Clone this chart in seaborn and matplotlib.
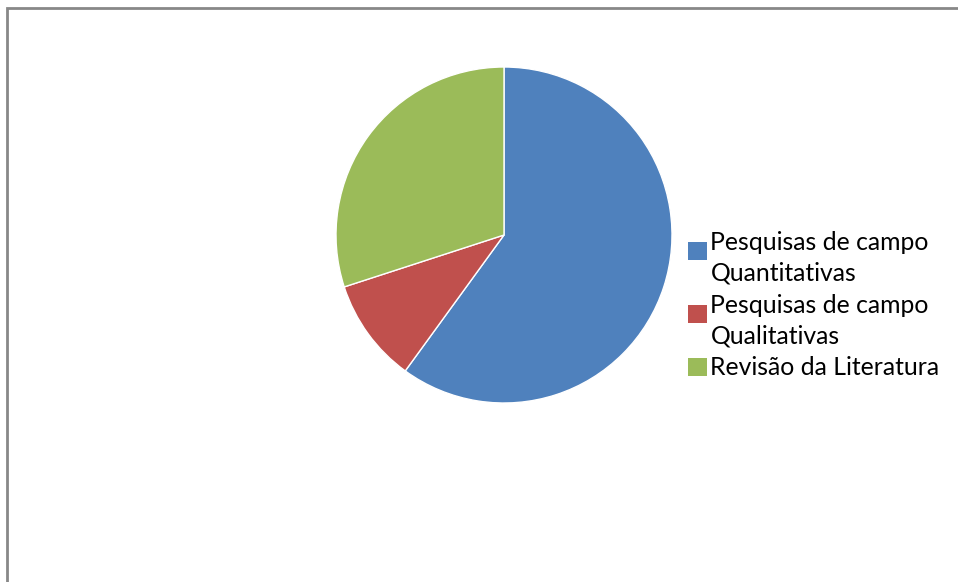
import matplotlib
matplotlib.use("Agg")
import matplotlib.pyplot as plt
import seaborn as sns
from matplotlib.patches import Patch, Rectangle
from matplotlib.legend_handler import HandlerPatch

# data
labels = ["Pesquisas de campo\nQuantitativas", "Pesquisas de campo\nQualitativas", "Revisão da Literatura"]
values = [60, 10, 30]
colors = ["#4F81BD", "#C0504D", "#9BBB59"]

sns.set_theme(style="white")
plt.rcParams["font.family"] = ["Lato", "DejaVu Sans"]

W, H = 958, 582
fig = plt.figure(figsize=(W / 100, H / 100), dpi=100)
fig.patch.set_facecolor("white")

# pie center ~ (504, 235) px, radius ~168 px
cx, cy, r = 504, 235, 168
ax = fig.add_axes([(cx - r) / W, (H - cy - r) / H, 2 * r / W, 2 * r / H])
wedges, _ = ax.pie(values, colors=colors, startangle=90, counterclock=False,
                   wedgeprops=dict(edgecolor="white", linewidth=1))
ax.set_xlim(-1, 1)
ax.set_ylim(-1, 1)
ax.set_aspect("equal")
ax.axis("off")

# outer frame (only top and left visible)
fig.add_artist(Rectangle((7 / W, -0.1), 2.0, (H - 7.5) / H + 0.1, transform=fig.transFigure,
                         fill=False, edgecolor="#888888", linewidth=2))


class SquareHandler(HandlerPatch):
    # Excel puts the square next to the first line of a wrapped label
    def __init__(self, shift):
        super().__init__()
        self.shift = shift

    def create_artists(self, legend, orig_handle, xdescent, ydescent, width, height, fontsize, trans):
        p = Rectangle((-xdescent, -ydescent + self.shift), width, height,
                      facecolor=orig_handle.get_facecolor(), edgecolor="none", transform=trans)
        return [p]


fs = 17.8
handles = [Patch(facecolor=c, edgecolor="none") for c in colors]
hmap = {}
for h, lab in zip(handles, labels):
    hmap[h] = SquareHandler(5.5 if "\n" in lab else 0)

leg = fig.legend(handles, labels, loc="upper left", bbox_to_anchor=(688 / W, 1 - 231 / H),
                 frameon=False, fontsize=fs, handlelength=0.76, handleheight=0.76,
                 handletextpad=0.15, labelspacing=0.35, borderpad=0, borderaxespad=0,
                 handler_map=hmap)
for t in leg.get_texts():
    t.set_color("black")
    t.set_linespacing(1.42)

fig.savefig("out.png", dpi=100, facecolor="white")
